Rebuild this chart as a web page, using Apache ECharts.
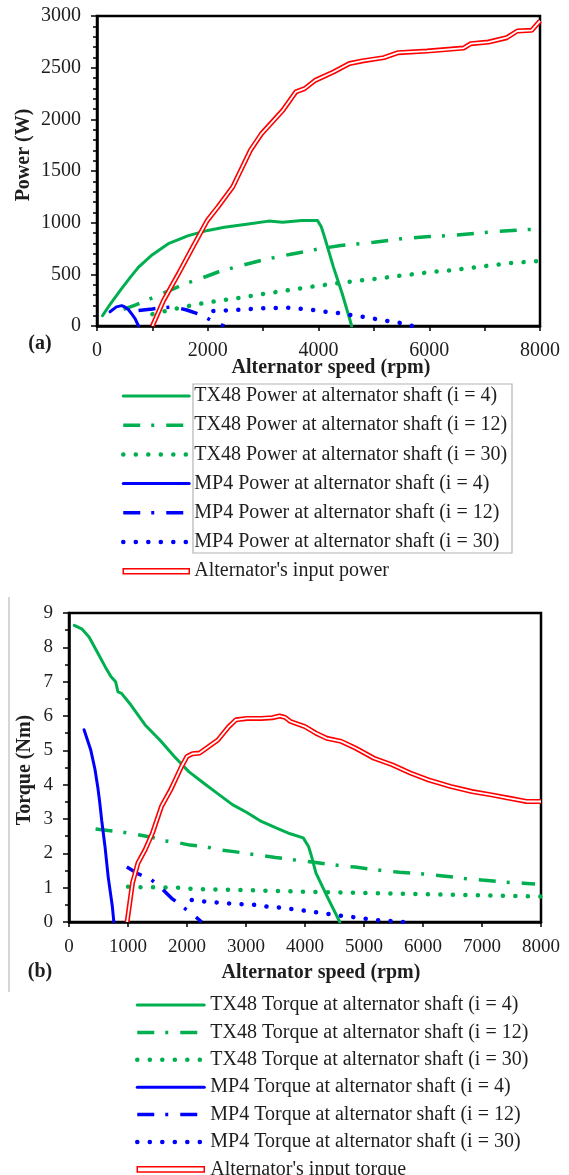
<!DOCTYPE html>
<html>
<head>
<meta charset="utf-8">
<script src="https://cdn.jsdelivr.net/npm/echarts@6/dist/echarts.min.js"></script>
<style>
  html, body { margin: 0; padding: 0; background: #fff; }
  #main { width: 569px; height: 1175px; }
</style>
</head>
<body>
<div id="main"></div>
<script>
// (a) power vs alternator speed, [rpm, W]
const powerTx48I4 = [[100,100],[250,220],[420,345],[600,470],[750,570],[1000,690],[1300,800],[1650,875],[2000,925],[2300,955],[2700,985],[3100,1015],[3350,1005],[3700,1022],[3980,1022],[4050,960],[4110,860],[4270,570],[4430,310],[4600,0]];
const powerTx48I12 = [[480,160],[700,205],[900,250],[1100,295],[1400,365],[1600,410],[1900,465],[2200,525],[2500,570],[3000,640],[3500,695],[4000,745],[4400,780],[5000,810],[5500,845],[6000,865],[6500,880],[7000,905],[7500,925],[8000,940]];
const powerTx48I30 = [[1000,115],[1400,165],[1800,210],[2200,245],[2600,275],[3000,310],[3500,350],[4000,390],[4500,425],[5000,455],[5500,488],[6000,520],[6500,545],[7000,580],[7500,610],[8000,630]];
const powerMp4I4 = [[235,138],[350,185],[445,197],[500,185],[565,160],[630,115],[690,70],[750,0]];
const powerMp4I12 = [[750,150],[1000,165],[1200,178],[1400,183],[1620,155],[1850,113],[2100,45],[2300,0]];
const powerMp4I30 = [[2100,145],[2500,155],[3000,172],[3450,177],[3700,165],[3900,155],[4130,138],[4350,126],[4580,106],[4800,90],[5030,68],[5250,48],[5480,29],[5700,0]];
const powerAlternator = [[1000,0],[1200,245],[1470,505],[1730,765],[1990,1020],[2180,1150],[2450,1345],[2770,1700],[2970,1860],[3360,2090],[3590,2265],[3750,2297],[3940,2377],[4270,2458],[4560,2540],[4790,2565],[5180,2597],[5440,2645],[5960,2661],[6620,2690],[6750,2732],[7070,2748],[7400,2790],[7590,2855],[7850,2861],[8000,2952]];

// (b) torque vs alternator speed, [rpm, Nm]
const torqueTx48I4 = [[90,8.64],[215,8.54],[340,8.3],[460,7.92],[615,7.43],[710,7.15],[790,7.0],[830,6.7],[890,6.66],[1050,6.32],[1290,5.74],[1540,5.3],[1785,4.82],[2030,4.38],[2280,4.05],[2520,3.74],[2770,3.42],[3015,3.19],[3260,2.93],[3510,2.74],[3750,2.57],[3970,2.45],[4060,2.2],[4110,1.92],[4185,1.43],[4370,0.76],[4590,0]];
const torqueTx48I12 = [[450,2.71],[900,2.62],[1150,2.55],[1400,2.47],[1600,2.37],[1850,2.31],[2050,2.24],[2300,2.2],[2550,2.1],[2800,2.05],[3200,1.95],[3500,1.88],[3900,1.79],[4150,1.74],[4600,1.64],[4850,1.6],[5300,1.5],[5600,1.45],[6000,1.4],[6300,1.35],[6700,1.27],[7000,1.22],[7400,1.16],[7700,1.13],[7900,1.11]];
const torqueTx48I30 = [[1000,1.03],[1250,1.01],[1450,1.01],[1900,1.0],[2100,0.96],[2950,0.93],[3800,0.89],[4650,0.86],[5500,0.83],[6350,0.8],[7200,0.77],[8000,0.74]];
const torqueMp4I4 = [[255,5.6],[370,5.0],[440,4.45],[490,3.9],[520,3.5],[555,2.95],[610,2.2],[665,1.3],[735,0.45],[760,0]];
const torqueMp4I12 = [[980,1.6],[1175,1.4],[1390,1.24],[1570,0.98],[1740,0.69],[1920,0.45],[2110,0.2],[2250,0]];
const torqueMp4I30 = [[2080,0.64],[2290,0.6],[2500,0.57],[2720,0.54],[2930,0.52],[3135,0.5],[3350,0.45],[3570,0.42],[3775,0.38],[3990,0.33],[4200,0.28],[4410,0.23],[4620,0.18],[4830,0.14],[5050,0.09],[5250,0.05],[5470,0.03],[5670,0]];
const torqueAlternator = [[985,0],[1077,1.14],[1169,1.72],[1292,2.11],[1415,2.59],[1569,3.37],[1723,3.85],[1908,4.53],[2000,4.82],[2092,4.9],[2215,4.92],[2369,5.11],[2523,5.3],[2708,5.69],[2831,5.89],[3015,5.93],[3262,5.93],[3446,5.95],[3569,6.0],[3662,5.96],[3754,5.84],[4000,5.69],[4185,5.5],[4369,5.35],[4615,5.26],[4862,5.06],[5169,4.77],[5477,4.58],[5785,4.34],[6092,4.14],[6462,3.95],[6831,3.8],[7138,3.71],[7446,3.61],[7754,3.51],[8000,3.51]];

const powerNames = [
  'TX48 Power at alternator shaft (i = 4)',
  'TX48 Power at alternator shaft (i = 12)',
  'TX48 Power at alternator shaft (i = 30)',
  'MP4 Power at alternator shaft (i = 4)',
  'MP4 Power at alternator shaft (i = 12)',
  'MP4 Power at alternator shaft (i = 30)',
  "Alternator's input power"
];
const torqueNames = [
  'TX48 Torque at alternator shaft (i = 4)',
  'TX48 Torque at alternator shaft (i = 12)',
  'TX48 Torque at alternator shaft (i = 30)',
  'MP4 Torque at alternator shaft (i = 4)',
  'MP4 Torque at alternator shaft (i = 12)',
  'MP4 Torque at alternator shaft (i = 30)',
  "Alternator's input torque"
];

const FONT = '"Liberation Serif", "Times New Roman", serif';
const GREEN = '#00b050';
const BLUE = '#0000ff';
const RED = '#ff0000';
const TXT = '#1e1e1e';

// line looks (same order as the names)
const solid = { type: 'solid', width: 3, cap: 'round' };
const dashDot = { type: [17, 11, 3, 12], width: 3.5, cap: 'butt' };
const dotted = { type: [0.1, 12.4], width: 4.5, cap: 'round' };
const looks = [[GREEN, solid], [GREEN, dashDot], [GREEN, dotted], [BLUE, solid], [BLUE, dashDot], [BLUE, dotted]];

function mkLine(name, data, idx, color, style) {
  return {
    name: name,
    type: 'line',
    xAxisIndex: idx,
    yAxisIndex: idx,
    data: data,
    symbol: 'none',
    silent: true,
    animation: false,
    lineStyle: Object.assign({ color: color }, style)
  };
}
// red double line = wide red + thin white on top
function mkDouble(name, data, idx) {
  return [
    mkLine(name, data, idx, RED, { width: 5, cap: 'butt' }),
    mkLine('_inner' + idx, data, idx, '#ffffff', { width: 1.8, cap: 'butt' })
  ];
}

const chart = echarts.init(document.getElementById('main'));

function xAx(idx, fmt) {
  return {
    gridIndex: idx, type: 'value', min: 0, max: 8000, interval: 1000,
    axisLine: { show: true, lineStyle: { color: '#000', width: 2.5 } },
    axisTick: { show: true, length: 5, lineStyle: { color: '#000', width: 1.5 } },
    axisLabel: { formatter: fmt, fontFamily: FONT, fontSize: idx === 0 ? 20 : 19, color: TXT, margin: idx === 0 ? 15 : 16 },
    splitLine: { show: false }
  };
}
function yAx(idx, max, interval, minorSplit) {
  return {
    gridIndex: idx, type: 'value', min: 0, max: max, interval: interval,
    axisLine: { show: true, lineStyle: { color: '#000', width: 2.5 } },
    axisTick: { show: true, length: 6, lineStyle: { color: '#000', width: 1.5 } },
    minorTick: { show: true, splitNumber: minorSplit, length: 4, lineStyle: { color: '#000', width: 1.5 } },
    axisLabel: { formatter: function (v) { return String(v); }, fontFamily: FONT, fontSize: idx === 0 ? 20 : 19, color: TXT, margin: 16 },
    splitLine: { show: false }
  };
}

function legendData(names) {
  return names.map(function (n, i) {
    if (i === 6) {
      return {
        name: n,
        icon: 'path://M0,0L66,0L66,5L0,5Z',
        itemStyle: { color: '#fff', borderColor: RED, borderWidth: 1.5, opacity: 1 }
      };
    }
    return {
      name: n,
      lineStyle: Object.assign({ color: looks[i][0] }, looks[i][1])
    };
  });
}

const option = {
  backgroundColor: '#fff',
  animation: false,
  grid: [
    { left: 97, top: 16, width: 443, height: 310, show: true, borderColor: '#000', borderWidth: 2.5 },
    { left: 69, top: 613, width: 472, height: 309, show: true, borderColor: '#000', borderWidth: 2.5 }
  ],
  xAxis: [
    xAx(0, function (v) { return v % 2000 === 0 ? String(v) : ''; }),
    xAx(1, function (v) { return String(v); })
  ],
  yAxis: [
    yAx(0, 3000, 500, 5),
    yAx(1, 9, 1, 2)
  ],
  legend: [
    {
      data: legendData(powerNames),
      orient: 'vertical', left: 121, top: 386, height: 230, padding: 0,
      itemWidth: 66, itemHeight: 14, itemGap: 9.2,
      selectedMode: false,
      itemStyle: { opacity: 0 },
      textStyle: { fontFamily: FONT, fontSize: 20, color: TXT, padding: 0 }
    },
    {
      data: legendData(torqueNames),
      orient: 'vertical', left: 135, top: 995, height: 210, padding: 0,
      itemWidth: 67, itemHeight: 14, itemGap: 7.4,
      selectedMode: false,
      itemStyle: { opacity: 0 },
      textStyle: { fontFamily: FONT, fontSize: 20, color: TXT, padding: [0, 0, 0, 1] }
    }
  ],
  graphic: [
    { type: 'rect', shape: { x: 193, y: 384, width: 319, height: 169 }, style: { fill: 'none', stroke: '#b4b4b4', lineWidth: 1.2 }, silent: true },
    { type: 'line', shape: { x1: 9, y1: 597, x2: 9, y2: 992 }, style: { stroke: '#c8c8c8', lineWidth: 1.5 }, silent: true },
    { type: 'text', x: 331, y: 368, style: { text: 'Alternator speed (rpm)', font: 'bold 20px ' + FONT, fill: TXT, textAlign: 'center', textVerticalAlign: 'middle' } },
    { type: 'text', x: 40, y: 344, style: { text: '(a)', font: 'bold 20px ' + FONT, fill: TXT, textAlign: 'center', textVerticalAlign: 'middle' } },
    { type: 'text', x: 24, y: 155, rotation: Math.PI / 2, style: { text: 'Power (W)', font: 'bold 20px ' + FONT, fill: TXT, textAlign: 'center', textVerticalAlign: 'middle' } },
    { type: 'text', x: 321, y: 973, style: { text: 'Alternator speed (rpm)', font: 'bold 20px ' + FONT, fill: TXT, textAlign: 'center', textVerticalAlign: 'middle' } },
    { type: 'text', x: 40, y: 972, style: { text: '(b)', font: 'bold 20px ' + FONT, fill: TXT, textAlign: 'center', textVerticalAlign: 'middle' } },
    { type: 'text', x: 25, y: 770, rotation: Math.PI / 2, style: { text: 'Torque (Nm)', font: 'bold 20px ' + FONT, fill: TXT, textAlign: 'center', textVerticalAlign: 'middle' } }
  ],
  series: [
    mkLine(powerNames[0], powerTx48I4, 0, GREEN, solid),
    mkLine(powerNames[1], powerTx48I12, 0, GREEN, dashDot),
    mkLine(powerNames[2], powerTx48I30, 0, GREEN, dotted),
    mkLine(powerNames[3], powerMp4I4, 0, BLUE, solid),
    mkLine(powerNames[4], powerMp4I12, 0, BLUE, dashDot),
    mkLine(powerNames[5], powerMp4I30, 0, BLUE, dotted)
  ].concat(mkDouble(powerNames[6], powerAlternator, 0)).concat([
    mkLine(torqueNames[0], torqueTx48I4, 1, GREEN, solid),
    mkLine(torqueNames[1], torqueTx48I12, 1, GREEN, dashDot),
    mkLine(torqueNames[2], torqueTx48I30, 1, GREEN, dotted),
    mkLine(torqueNames[3], torqueMp4I4, 1, BLUE, solid),
    mkLine(torqueNames[4], torqueMp4I12, 1, BLUE, dashDot),
    mkLine(torqueNames[5], torqueMp4I30, 1, BLUE, dotted)
  ]).concat(mkDouble(torqueNames[6], torqueAlternator, 1))
};

chart.setOption(option);
window.addEventListener('resize', () => {
  chart.resize();
});
</script>
</body>
</html>
